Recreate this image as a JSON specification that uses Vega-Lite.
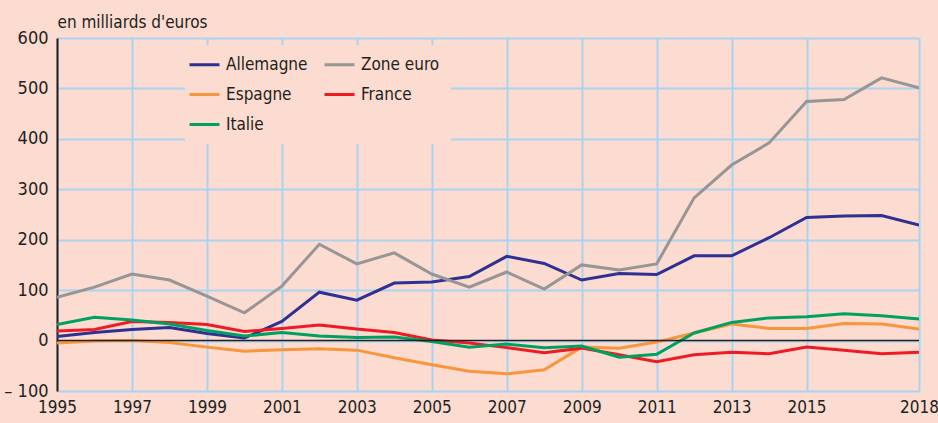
{
  "$schema": "https://vega.github.io/schema/vega-lite/v6.json",
  "width": 862,
  "height": 353,
  "autosize": "none",
  "padding": {"left": 57, "top": 38, "right": 19, "bottom": 32},
  "background": "#FCDBD0",
  "config": {
    "view": {"stroke": null},
    "font": "'DejaVu Sans Condensed', Roboto, sans-serif",
    "axis": {"labelFont": "'DejaVu Sans Condensed', Roboto, sans-serif", "titleFont": "'DejaVu Sans Condensed', Roboto, sans-serif"},
    "legend": {"labelFont": "'DejaVu Sans Condensed', Roboto, sans-serif"}
  },
  "datasets": {
    "series": [
      {"annee": 1995, "pays": "Allemagne", "valeur": 8},
      {"annee": 1996, "pays": "Allemagne", "valeur": 16},
      {"annee": 1997, "pays": "Allemagne", "valeur": 22},
      {"annee": 1998, "pays": "Allemagne", "valeur": 26},
      {"annee": 1999, "pays": "Allemagne", "valeur": 14},
      {"annee": 2000, "pays": "Allemagne", "valeur": 5},
      {"annee": 2001, "pays": "Allemagne", "valeur": 38},
      {"annee": 2002, "pays": "Allemagne", "valeur": 96},
      {"annee": 2003, "pays": "Allemagne", "valeur": 80},
      {"annee": 2004, "pays": "Allemagne", "valeur": 114},
      {"annee": 2005, "pays": "Allemagne", "valeur": 116},
      {"annee": 2006, "pays": "Allemagne", "valeur": 127},
      {"annee": 2007, "pays": "Allemagne", "valeur": 167},
      {"annee": 2008, "pays": "Allemagne", "valeur": 153},
      {"annee": 2009, "pays": "Allemagne", "valeur": 120},
      {"annee": 2010, "pays": "Allemagne", "valeur": 133},
      {"annee": 2011, "pays": "Allemagne", "valeur": 131},
      {"annee": 2012, "pays": "Allemagne", "valeur": 168},
      {"annee": 2013, "pays": "Allemagne", "valeur": 168},
      {"annee": 2014, "pays": "Allemagne", "valeur": 204},
      {"annee": 2015, "pays": "Allemagne", "valeur": 244},
      {"annee": 2016, "pays": "Allemagne", "valeur": 247},
      {"annee": 2017, "pays": "Allemagne", "valeur": 248},
      {"annee": 2018, "pays": "Allemagne", "valeur": 229},
      {"annee": 1995, "pays": "Zone euro", "valeur": 86},
      {"annee": 1996, "pays": "Zone euro", "valeur": 106},
      {"annee": 1997, "pays": "Zone euro", "valeur": 132},
      {"annee": 1998, "pays": "Zone euro", "valeur": 120},
      {"annee": 1999, "pays": "Zone euro", "valeur": 88},
      {"annee": 2000, "pays": "Zone euro", "valeur": 55},
      {"annee": 2001, "pays": "Zone euro", "valeur": 108},
      {"annee": 2002, "pays": "Zone euro", "valeur": 191},
      {"annee": 2003, "pays": "Zone euro", "valeur": 152},
      {"annee": 2004, "pays": "Zone euro", "valeur": 174},
      {"annee": 2005, "pays": "Zone euro", "valeur": 132},
      {"annee": 2006, "pays": "Zone euro", "valeur": 106},
      {"annee": 2007, "pays": "Zone euro", "valeur": 136},
      {"annee": 2008, "pays": "Zone euro", "valeur": 102},
      {"annee": 2009, "pays": "Zone euro", "valeur": 150},
      {"annee": 2010, "pays": "Zone euro", "valeur": 140},
      {"annee": 2011, "pays": "Zone euro", "valeur": 152},
      {"annee": 2012, "pays": "Zone euro", "valeur": 283},
      {"annee": 2013, "pays": "Zone euro", "valeur": 348},
      {"annee": 2014, "pays": "Zone euro", "valeur": 392},
      {"annee": 2015, "pays": "Zone euro", "valeur": 474},
      {"annee": 2016, "pays": "Zone euro", "valeur": 478},
      {"annee": 2017, "pays": "Zone euro", "valeur": 521},
      {"annee": 2018, "pays": "Zone euro", "valeur": 501},
      {"annee": 1995, "pays": "Espagne", "valeur": -5},
      {"annee": 1996, "pays": "Espagne", "valeur": -1},
      {"annee": 1997, "pays": "Espagne", "valeur": 0},
      {"annee": 1998, "pays": "Espagne", "valeur": -4},
      {"annee": 1999, "pays": "Espagne", "valeur": -13},
      {"annee": 2000, "pays": "Espagne", "valeur": -21},
      {"annee": 2001, "pays": "Espagne", "valeur": -18},
      {"annee": 2002, "pays": "Espagne", "valeur": -16},
      {"annee": 2003, "pays": "Espagne", "valeur": -19},
      {"annee": 2004, "pays": "Espagne", "valeur": -34},
      {"annee": 2005, "pays": "Espagne", "valeur": -48},
      {"annee": 2006, "pays": "Espagne", "valeur": -61},
      {"annee": 2007, "pays": "Espagne", "valeur": -66},
      {"annee": 2008, "pays": "Espagne", "valeur": -58},
      {"annee": 2009, "pays": "Espagne", "valeur": -13},
      {"annee": 2010, "pays": "Espagne", "valeur": -15},
      {"annee": 2011, "pays": "Espagne", "valeur": -3},
      {"annee": 2012, "pays": "Espagne", "valeur": 15},
      {"annee": 2013, "pays": "Espagne", "valeur": 33},
      {"annee": 2014, "pays": "Espagne", "valeur": 24},
      {"annee": 2015, "pays": "Espagne", "valeur": 24},
      {"annee": 2016, "pays": "Espagne", "valeur": 34},
      {"annee": 2017, "pays": "Espagne", "valeur": 33},
      {"annee": 2018, "pays": "Espagne", "valeur": 23},
      {"annee": 1995, "pays": "France", "valeur": 19},
      {"annee": 1996, "pays": "France", "valeur": 22},
      {"annee": 1997, "pays": "France", "valeur": 38},
      {"annee": 1998, "pays": "France", "valeur": 36},
      {"annee": 1999, "pays": "France", "valeur": 32},
      {"annee": 2000, "pays": "France", "valeur": 18},
      {"annee": 2001, "pays": "France", "valeur": 24},
      {"annee": 2002, "pays": "France", "valeur": 31},
      {"annee": 2003, "pays": "France", "valeur": 23},
      {"annee": 2004, "pays": "France", "valeur": 16},
      {"annee": 2005, "pays": "France", "valeur": 1},
      {"annee": 2006, "pays": "France", "valeur": -5},
      {"annee": 2007, "pays": "France", "valeur": -14},
      {"annee": 2008, "pays": "France", "valeur": -24},
      {"annee": 2009, "pays": "France", "valeur": -15},
      {"annee": 2010, "pays": "France", "valeur": -28},
      {"annee": 2011, "pays": "France", "valeur": -42},
      {"annee": 2012, "pays": "France", "valeur": -28},
      {"annee": 2013, "pays": "France", "valeur": -23},
      {"annee": 2014, "pays": "France", "valeur": -26},
      {"annee": 2015, "pays": "France", "valeur": -13},
      {"annee": 2016, "pays": "France", "valeur": -19},
      {"annee": 2017, "pays": "France", "valeur": -26},
      {"annee": 2018, "pays": "France", "valeur": -23},
      {"annee": 1995, "pays": "Italie", "valeur": 32},
      {"annee": 1996, "pays": "Italie", "valeur": 46},
      {"annee": 1997, "pays": "Italie", "valeur": 41},
      {"annee": 1998, "pays": "Italie", "valeur": 33},
      {"annee": 1999, "pays": "Italie", "valeur": 20},
      {"annee": 2000, "pays": "Italie", "valeur": 9},
      {"annee": 2001, "pays": "Italie", "valeur": 16},
      {"annee": 2002, "pays": "Italie", "valeur": 9},
      {"annee": 2003, "pays": "Italie", "valeur": 6},
      {"annee": 2004, "pays": "Italie", "valeur": 7},
      {"annee": 2005, "pays": "Italie", "valeur": -2},
      {"annee": 2006, "pays": "Italie", "valeur": -13},
      {"annee": 2007, "pays": "Italie", "valeur": -7},
      {"annee": 2008, "pays": "Italie", "valeur": -14},
      {"annee": 2009, "pays": "Italie", "valeur": -11},
      {"annee": 2010, "pays": "Italie", "valeur": -33},
      {"annee": 2011, "pays": "Italie", "valeur": -27},
      {"annee": 2012, "pays": "Italie", "valeur": 15},
      {"annee": 2013, "pays": "Italie", "valeur": 36},
      {"annee": 2014, "pays": "Italie", "valeur": 45},
      {"annee": 2015, "pays": "Italie", "valeur": 47},
      {"annee": 2016, "pays": "Italie", "valeur": 53},
      {"annee": 2017, "pays": "Italie", "valeur": 49},
      {"annee": 2018, "pays": "Italie", "valeur": 43}
    ],
    "zero": [{"valeur": 0}]
  },
  "layer": [
    {
      "data": {"name": "series"},
      "mark": {"type": "line", "strokeWidth": 3, "strokeJoin": "miter", "clip": true},
      "encoding": {
        "x": {
          "field": "annee", "type": "quantitative",
          "scale": {"domain": [1995, 2018], "nice": false, "zero": false},
          "axis": {
            "title": null,
            "values": [1995, 1997, 1999, 2001, 2003, 2005, 2007, 2009, 2011, 2013, 2015, 2018],
            "format": "d",
            "domain": false,
            "ticks": false,
            "grid": true,
            "gridColor": "#A8D4F2",
            "gridWidth": 2,
            "gridOpacity": 1,
            "labelFontSize": 17,
            "labelColor": "#231F20",
            "labelPadding": 8,
            "labelFlush": false,
            "labelOverlap": false
          }
        },
        "y": {
          "field": "valeur", "type": "quantitative",
          "scale": {"domain": [-100, 600], "nice": false},
          "axis": {
            "title": "en milliards d'euros",
            "titleAngle": 0,
            "titleX": 0,
            "titleY": -11,
            "titleAlign": "left",
            "titleBaseline": "alphabetic",
            "titleFontSize": 17,
            "titleFontWeight": "normal",
            "titleColor": "#231F20",
            "values": [-100, 0, 100, 200, 300, 400, 500, 600],
            "labelExpr": "datum.value < 0 ? '\u2013 ' + abs(datum.value) : datum.label",
            "domain": true,
            "domainColor": "#231F20",
            "domainWidth": 2,
            "ticks": false,
            "grid": true,
            "gridColor": "#A8D4F2",
            "gridWidth": 2,
            "gridOpacity": 1,
            "labelFontSize": 18,
            "labelColor": "#231F20",
            "labelPadding": 9,
            "labelFlush": false,
            "labelOverlap": false
          }
        },
        "color": {
          "field": "pays", "type": "nominal",
          "scale": {
            "domain": ["Allemagne", "Espagne", "Italie", "Zone euro", "France"],
            "range": ["#2E3192", "#F7963C", "#00A160", "#969696", "#ED1C24"]
          },
          "legend": {
            "title": null,
            "orient": "none",
            "direction": "vertical",
            "legendX": 128,
            "legendY": 7,
            "columns": 2,
            "columnPadding": 10,
            "rowPadding": 12,
            "padding": 11,
            "fillColor": "#FCDBD0",
            "strokeColor": null,
            "symbolType": "M-3,0H3",
            "symbolSize": 100,
            "symbolStrokeWidth": 3,
            "labelFontSize": 17,
            "labelColor": "#231F20",
            "labelOffset": 13
          }
        }
      }
    },
    {
      "data": {"name": "zero"},
      "mark": {"type": "rule", "color": "#231F20", "strokeWidth": 1.5},
      "encoding": {"y": {"field": "valeur", "type": "quantitative"}}
    }
  ]
}
